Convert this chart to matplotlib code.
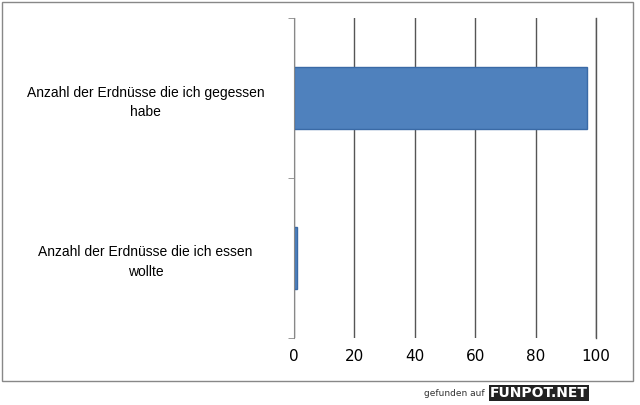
import matplotlib
matplotlib.use("Agg")
import matplotlib.pyplot as plt
from matplotlib.patches import Rectangle

categories = ["Anzahl der Erdnüsse die ich essen\nwollte", "Anzahl der Erdnüsse die ich gegessen\nhabe"]
values = [1, 97]
xticks = [0, 20, 40, 60, 80, 100]

W, H = 640, 405
fig = plt.figure(figsize=(W/100, H/100), dpi=100)
fig.patches.append(Rectangle((2/W, 1-381/H), 631/W, 379/H, transform=fig.transFigure,
                             fill=False, edgecolor="#888888", linewidth=1))
ax = fig.add_axes([294/W, 1-338/H, (596-294)/W, (338-18)/H])
ax.barh(range(len(categories)), values, height=0.39, color="#4f81bd", edgecolor="#3a6aa6")
ax.set_xlim(0, 100)
ax.set_ylim(-0.5, 1.5)
ax.set_xticks(xticks)
ax.set_yticks([0, 1])
ax.set_yticklabels(categories, fontsize=10, family="Liberation Sans", ha="center", linespacing=1.5)
ax.tick_params(axis="y", pad=107, length=0)
ax.set_yticks([-0.5, 0.5, 1.5], minor=True)
ax.tick_params(axis="y", which="minor", length=4, color="#888888")
ax.tick_params(axis="x", labelsize=11, length=0, pad=8)
ax.grid(axis="x", color="#555555", linewidth=1)
ax.axvline(100, color="#555555", linewidth=1, clip_on=False, zorder=0)
ax.set_axisbelow(True)
for s in ["top", "right", "bottom"]:
    ax.spines[s].set_visible(False)
ax.spines["left"].set_color("#888888")
fig.text(485/W, 1-393/H, "gefunden auf", fontsize=6.5, ha="right", va="center", color="#333333")
fig.text(490/W, 1-393/H, "FUNPOT.NET", fontsize=10, fontweight="bold", ha="left", va="center",
         color="white", bbox=dict(facecolor="#222222", edgecolor="none", pad=1))
fig.savefig("out.png", dpi=100)
